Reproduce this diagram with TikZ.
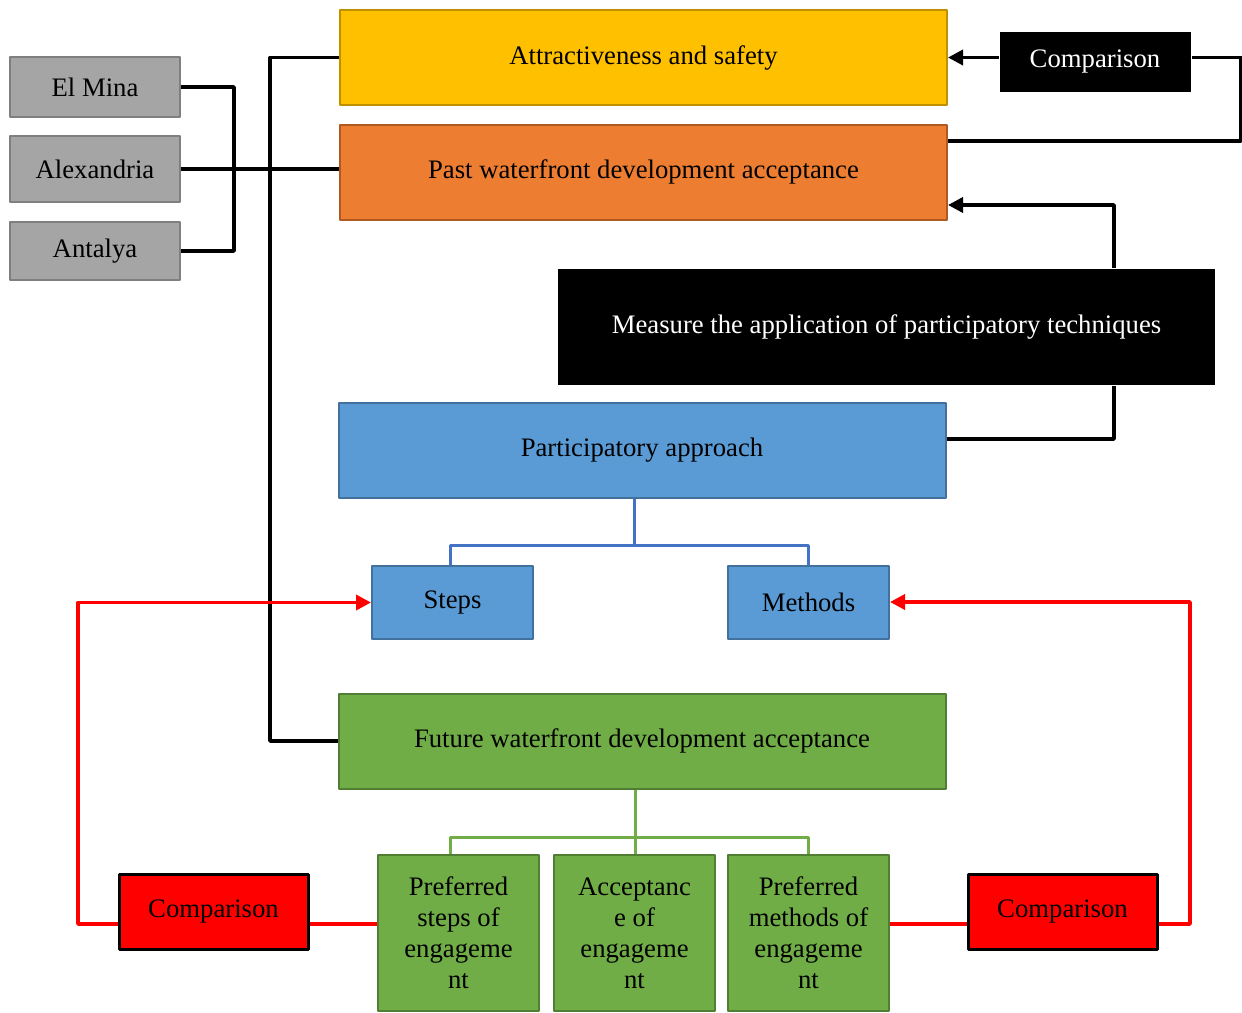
\documentclass[tikz,border=0pt]{standalone}
\usepackage{fontspec}
\setmainfont{Liberation Serif}
\usetikzlibrary{arrows.meta}

\definecolor{cgray}{HTML}{A5A5A5}
\definecolor{cgraydark}{HTML}{7F7F7F}
\definecolor{cgold}{HTML}{FFC000}
\definecolor{cgolddark}{HTML}{BF9000}
\definecolor{corange}{HTML}{ED7D31}
\definecolor{corangedark}{HTML}{AE5A21}
\definecolor{cblue}{HTML}{5B9BD5}
\definecolor{cbluedark}{HTML}{41719C}
\definecolor{cblueline}{HTML}{4472C4}
\definecolor{cgreen}{HTML}{70AD47}
\definecolor{cgreendark}{HTML}{507E32}
\definecolor{cred}{HTML}{FF0000}

\begin{document}
\begin{tikzpicture}[
    x = 1pt, y = -1pt,
    line join=round,
    mybox/.style = {draw, line width=2pt, inner sep=0pt, align=center, font=\fontsize{26.7}{31}\selectfont},
    citybox/.style = {mybox, fill=cgray, draw=cgraydark, minimum width=170, minimum height=60},
    widebox/.style = {mybox, minimum width=607, minimum height=95},
    smallbox/.style = {mybox, fill=cblue, draw=cbluedark, minimum width=161, minimum height=73},
    engbox/.style = {mybox, fill=cgreen, draw=cgreendark, minimum width=161, minimum height=156},
    redbox/.style = {mybox, fill=cred, draw=black, line width=3pt, minimum width=189, minimum height=75},
    darkbox/.style = {mybox, fill=black, draw=none, text=white},
    blackline/.style = {line width=3.5pt, black},
    redline/.style = {line width=3.5pt, cred},
    arr/.style = {-{Triangle[length=15pt,width=15pt]}}
]

    \useasboundingbox (0,0) rectangle (1242,1012);

    % cities
    \node[citybox] (elmina) at (95,87) {El Mina};
    \node[citybox, minimum height=66] (alexandria) at (95,169) {Alexandria};
    \node[citybox, minimum height=58] (antalya) at (95,251) {Antalya};

    \node[widebox, fill=cgold, draw=cgolddark] (attr) at (643.5,57.5) {Attractiveness and safety};
    \node[widebox, fill=corange, draw=corangedark] (past) at (643.5,172) {Past waterfront development acceptance};
    \node[darkbox, minimum width=191, minimum height=60] (cmptop) at (1095,62) {Comparison};
    \node[darkbox, minimum width=657, minimum height=116] (measure) at (886.5,327) {Measure the application of participatory techniques};
    \node[widebox, fill=cblue, draw=cbluedark] (part) at (642,450.5) {Participatory approach};
    \node[smallbox] (steps) at (452.5,602.5) {Steps};
    \node[smallbox] (methods) at (808.5,602) {Methods};
    \node[widebox, fill=cgreen, draw=cgreendark] (future) at (642,741) {Future waterfront development acceptance};

    \node[engbox] (prefsteps) at (458.5,933) {Preferred\\steps of\\engageme\\nt};
    \node[engbox] (accept) at (634.5,933) {Acceptanc\\e of\\engageme\\nt};
    \node[engbox] (prefmethods) at (808.5,933) {Preferred\\methods of\\engageme\\nt};
    \node[redbox] (cmpleft) at (213.5,911.5) {Comparison};
    \node[redbox] (cmpright) at (1062.5,911.5) {Comparison};

    \coordinate (bk) at (234,87);
    \coordinate (pk) at (1241,141);
    \coordinate (mk) at (1114,205);
    \coordinate (mb) at (1114,439);
    \coordinate (pj) at (634,545);
    \coordinate (fj) at (635,837);
    \coordinate (gl) at (450,837);
    \coordinate (rl) at (78,924);
    \coordinate (rr) at (1190,924);

    % black connectors
    \draw[blackline] (elmina.east) -- (bk) |- (antalya.east);
    \draw[blackline] (alexandria.east) -- (alexandria.east -| past.west);
    \draw[blackline] (attr.west) -- ++(-69,0) |- (future.west);
    \draw[blackline, arr] (cmptop.west |- attr.east) -- (attr.east);
    \draw[blackline] (cmptop.east |- attr.east) -| (pk) -- (pk -| past.east);
    \draw[blackline, arr] (measure.north -| mk) -- (mk) -- (mk -| past.east);
    \draw[blackline] (measure.south -| mb) -- (mb) -- (mb -| part.east);

    % trees
    \draw[line width=3pt, cblueline] (part.south -| pj) -- (pj);
    \draw[line width=3pt, cblueline] (steps.north -| gl) |- (pj) -| (methods.north);
    \draw[line width=3pt, cgreen] (future.south -| fj) -- (fj) -- (accept.north -| fj);
    \draw[line width=3pt, cgreen] (prefsteps.north -| gl) |- (fj) -| (prefmethods.north);

    % red connectors
    \draw[redline, arr] (cmpleft.west |- rl) -- (rl) |- (steps.west);
    \draw[redline] (cmpleft.east |- rl) -- (rl -| prefsteps.west);
    \draw[redline] (prefmethods.east |- rr) -- (rr -| cmpright.west);
    \draw[redline, arr] (cmpright.east |- rr) -- (rr) |- (methods.east);

\end{tikzpicture}
\end{document}
